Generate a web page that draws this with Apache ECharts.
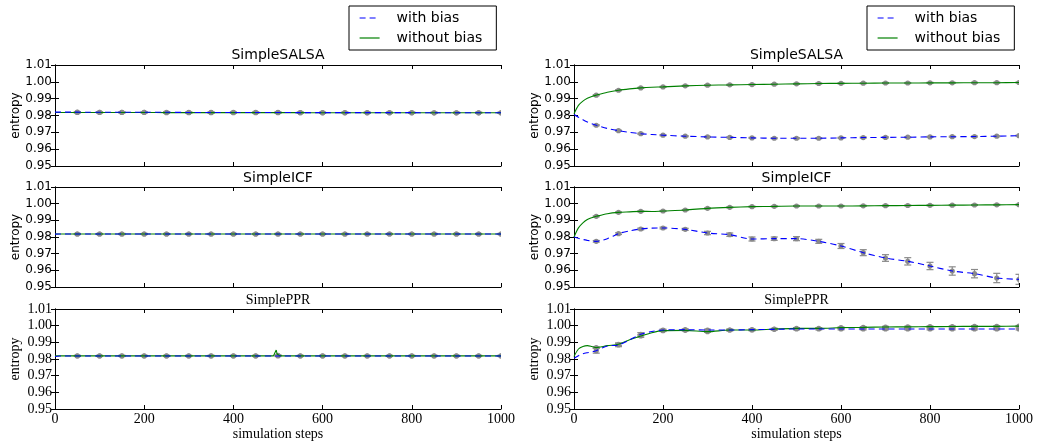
<!DOCTYPE html>
<html><head><meta charset="utf-8">
<script src="https://cdn.jsdelivr.net/npm/echarts@6/dist/echarts.min.js"></script>
<style>html,body{margin:0;padding:0;background:#fff}#c{width:1039px;height:446px}</style>
</head><body><div id="c"></div>
<script>
// ---------------- DATA ----------------
const steps = [0,10,20,30,40,50,75,100,125,150,175,200,250,300,350,400,450,500,550,600,650,700,750,800,850,900,950,1000];
const barSteps = [50,100,150,200,250,300,350,400,450,500,550,600,650,700,750,800,850,900,950,1000];
const xTicks = [0,200,400,600,800,1000];
const yTicks = [0.95,0.96,0.97,0.98,0.99,1.00,1.01];
const titles = ['SimpleSALSA','SimpleICF','SimplePPR'];
const legendNames = ['with bias','without bias'];

// left column (no bias effect)
const leftSalsaBias   = [0.9820,0.9820,0.9820,0.9820,0.9820,0.9820,0.9819,0.9819,0.9819,0.9819,0.9819,0.9819,0.9819,0.9818,0.9818,0.9818,0.9818,0.9818,0.9817,0.9817,0.9817,0.9817,0.9817,0.9817,0.9816,0.9816,0.9816,0.9816];
const leftSalsaNoBias = [0.9818,0.9818,0.9818,0.9818,0.9818,0.9818,0.9818,0.9818,0.9818,0.9818,0.9818,0.9818,0.9817,0.9817,0.9817,0.9817,0.9817,0.9817,0.9817,0.9816,0.9816,0.9816,0.9816,0.9816,0.9816,0.9816,0.9816,0.9816];
const leftIcfBias     = [0.9817,0.9818,0.9818,0.9818,0.9818,0.9818,0.9818,0.9818,0.9818,0.9818,0.9818,0.9818,0.9818,0.9818,0.9818,0.9818,0.9818,0.9818,0.9818,0.9818,0.9818,0.9818,0.9818,0.9818,0.9818,0.9818,0.9818,0.9818];
const leftIcfNoBias   = [0.9818,0.9818,0.9818,0.9818,0.9818,0.9818,0.9818,0.9818,0.9818,0.9818,0.9818,0.9818,0.9818,0.9818,0.9818,0.9818,0.9818,0.9818,0.9818,0.9818,0.9818,0.9818,0.9818,0.9818,0.9818,0.9818,0.9818,0.9818];
const leftPprBias     = [0.9815,0.9818,0.9818,0.9818,0.9818,0.9818,0.9818,0.9818,0.9818,0.9818,0.9818,0.9818,0.9818,0.9818,0.9818,0.9818,0.9818,0.9818,0.9818,0.9818,0.9818,0.9818,0.9818,0.9818,0.9818,0.9818,0.9818,0.9818];
const leftPprSpikeSteps = [0,50,100,150,200,250,300,350,400,450,490,494,496,498,500,504,510,550,600,650,700,750,800,850,900,950,1000];
const leftPprNoBias   = [0.9819,0.9819,0.9819,0.9819,0.9819,0.9819,0.9819,0.9819,0.9819,0.9819,0.9819,0.9822,0.9854,0.9830,0.9822,0.9820,0.9819,0.9819,0.9819,0.9819,0.9819,0.9819,0.9819,0.9819,0.9819,0.9819,0.9819];

// right column
const rightSalsaBias   = [0.9806,0.9790,0.9775,0.9762,0.9751,0.9742,0.9723,0.9710,0.9700,0.9692,0.9687,0.9683,0.9677,0.9673,0.9670,0.9667,0.9665,0.9665,0.9665,0.9667,0.9669,0.9670,0.9671,0.9673,0.9674,0.9675,0.9677,0.9680];
const rightSalsaNoBias = [0.9810,0.9860,0.9885,0.9902,0.9913,0.9921,0.9938,0.9950,0.9958,0.9964,0.9968,0.9970,0.9976,0.9980,0.9982,0.9984,0.9986,0.9988,0.9990,0.9991,0.9992,0.9993,0.9993,0.9994,0.9994,0.9995,0.9995,0.9996];
const rightIcfBias     = [0.9800,0.9792,0.9785,0.9780,0.9776,0.9774,0.9790,0.9820,0.9837,0.9848,0.9853,0.9854,0.9846,0.9824,0.9814,0.9788,0.9790,0.9790,0.9774,0.9746,0.9706,0.9674,0.9654,0.9626,0.9596,0.9580,0.9554,0.9546];
const rightIcfNoBias   = [0.9800,0.9855,0.9885,0.9905,0.9916,0.9924,0.9940,0.9948,0.9951,0.9954,0.9953,0.9956,0.9962,0.9972,0.9978,0.9982,0.9984,0.9986,0.9986,0.9986,0.9987,0.9988,0.9989,0.9990,0.9991,0.9992,0.9993,0.9994];
const rightPprBias     = [0.9805,0.9820,0.9832,0.9838,0.9842,0.9850,0.9878,0.9884,0.9915,0.9948,0.9965,0.9974,0.9976,0.9974,0.9974,0.9976,0.9978,0.9980,0.9980,0.9980,0.9980,0.9980,0.9980,0.9980,0.9980,0.9980,0.9980,0.9980];
const rightPprNoBias   = [0.9815,0.9860,0.9875,0.9880,0.9875,0.9868,0.9880,0.9888,0.9915,0.9938,0.9958,0.9970,0.9972,0.9964,0.9974,0.9974,0.9980,0.9984,0.9984,0.9988,0.9990,0.9992,0.9993,0.9994,0.9995,0.9996,0.9996,0.9997];

// error bar half-widths at barSteps
const errSmall         = [0.0003,0.0003,0.0003,0.0003,0.0003,0.0003,0.0003,0.0003,0.0003,0.0003,0.0003,0.0003,0.0003,0.0003,0.0003,0.0003,0.0003,0.0003,0.0003,0.0003];
const errRightIcfBias  = [0.0005,0.0005,0.0005,0.0005,0.0006,0.0010,0.0010,0.0012,0.0010,0.0012,0.0012,0.0015,0.0018,0.0020,0.0022,0.0022,0.0025,0.0025,0.0028,0.0030];
const errRightPprBias  = [0.0015,0.0010,0.0010,0.0005,0.0005,0.0005,0.0005,0.0005,0.0005,0.0005,0.0005,0.0005,0.0005,0.0005,0.0005,0.0005,0.0005,0.0005,0.0005,0.0005];
const errRightPprNoBias= [0.0005,0.0008,0.0008,0.0005,0.0004,0.0004,0.0004,0.0004,0.0004,0.0004,0.0004,0.0004,0.0004,0.0004,0.0004,0.0004,0.0004,0.0004,0.0004,0.0004];

// ---------------- LAYOUT / STYLE ----------------
const colLeft = [55, 574], colWidth = [446, 445];
const rowTop = [65, 187, 309], rowHeight = [101, 100, 100];
const titleY = [55, 178, 300];
const SANS = 'DejaVu Sans', SERIF = 'Liberation Serif';

const panels = [
  {col:0,row:0,bias:[steps,leftSalsaBias],nobias:[steps,leftSalsaNoBias],eb:errSmall,en:errSmall},
  {col:0,row:1,bias:[steps,leftIcfBias],nobias:[steps,leftIcfNoBias],eb:errSmall,en:errSmall},
  {col:0,row:2,bias:[steps,leftPprBias],nobias:[leftPprSpikeSteps,leftPprNoBias],eb:errSmall,en:errSmall,sharp:true},
  {col:1,row:0,bias:[steps,rightSalsaBias],nobias:[steps,rightSalsaNoBias],eb:errSmall,en:errSmall},
  {col:1,row:1,bias:[steps,rightIcfBias],nobias:[steps,rightIcfNoBias],eb:errRightIcfBias,en:errSmall},
  {col:1,row:2,bias:[steps,rightPprBias],nobias:[steps,rightPprNoBias],eb:errRightPprBias,en:errRightPprNoBias}
];

function zip(xs, ys){ return xs.map((x,i)=>[x, ys[i]]); }
function meansAt(xs, ys){ return barSteps.map(b => { const i = xs.indexOf(b); return ys[i]; }); }
function errData(xs, ys, err){ const m = meansAt(xs, ys); return barSteps.map((b,i)=>[b, m[i], err[i]]); }

function renderErr(params, api){
  const x = api.value(0), m = api.value(1), e = api.value(2);
  const p = api.coord([x, m]), lo = api.coord([x, m - e]), hi = api.coord([x, m + e]);
  const c = 3.5, st = {stroke:'#8a8a8a', lineWidth:1.2};
  return {type:'group', children:[
    {type:'line', shape:{x1:p[0],y1:hi[1],x2:p[0],y2:lo[1]}, style:st},
    {type:'line', shape:{x1:p[0]-c,y1:hi[1],x2:p[0]+c,y2:hi[1]}, style:st},
    {type:'line', shape:{x1:p[0]-c,y1:lo[1],x2:p[0]+c,y2:lo[1]}, style:st},
    {type:'circle', shape:{cx:p[0],cy:p[1],r:2.6}, style:{fill:'#8a8a8a'}}
  ]};
}

const grid = [], xAxis = [], yAxis = [], series = [], graphic = [];
panels.forEach((pn, i) => {
  const isBottom = pn.row === 2;
  const ppr = pn.row === 2;
  grid.push({left: colLeft[pn.col], top: rowTop[pn.row], width: colWidth[pn.col], height: rowHeight[pn.row], containLabel:false});
  const xBase = {gridIndex:i, type:'value', min:0, max:1000, interval:200,
    axisLine:{show:true, lineStyle:{color:'#000', width:1}},
    axisTick:{show:true, inside:true, length:4, lineStyle:{color:'#000'}},
    splitLine:{show:false}};
  xAxis.push(Object.assign({}, xBase, {position:'bottom',
    axisLabel:{show:isBottom, color:'#000', fontFamily:SERIF, fontSize:14, margin:3, formatter:v=>String(v)},
    name: isBottom ? 'simulation steps' : '', nameLocation:'middle', nameGap:17,
    nameTextStyle:{fontFamily:SERIF, fontSize:14, color:'#000'}}));
  xAxis.push(Object.assign({}, xBase, {position:'top', axisLabel:{show:false}}));
  const yBase = {gridIndex:i, type:'value', min:0.95, max:1.01, interval:0.01,
    axisLine:{show:true, lineStyle:{color:'#000', width:1}},
    axisTick:{show:true, inside:true, length:4, lineStyle:{color:'#000'}},
    splitLine:{show:false}};
  yAxis.push(Object.assign({}, yBase, {position:'left',
    axisLabel:{show:true, color:'#000', fontFamily: ppr?SERIF:SANS, fontSize: ppr?14:12, margin:3, formatter:v=>v.toFixed(2)},
    name:'entropy', nameLocation:'middle', nameGap:33,
    nameTextStyle:{fontFamily: ppr?SERIF:SANS, fontSize: ppr?14:12, color:'#000'}}));
  yAxis.push(Object.assign({}, yBase, {position:'right', axisLabel:{show:false}}));
  const xi = i*2, yi = i*2;
  series.push({type:'custom', name:'err-bias-'+i, xAxisIndex:xi, yAxisIndex:yi, renderItem:renderErr, clip:true, z:1,
    encode:{x:0,y:1}, data: errData(pn.bias[0], pn.bias[1], pn.eb), silent:true});
  series.push({type:'custom', name:'err-nobias-'+i, xAxisIndex:xi, yAxisIndex:yi, renderItem:renderErr, clip:true, z:1,
    encode:{x:0,y:1}, data: errData(pn.nobias[0], pn.nobias[1], pn.en), silent:true});
  series.push({type:'line', name:'with bias', xAxisIndex:xi, yAxisIndex:yi, data: zip(pn.bias[0], pn.bias[1]),
    symbol:'none', smooth:0.3, z:3, clip:true, color:'#0000ff',
    lineStyle:{color:'#0000ff', width:1.1, type:[6,4]}});
  series.push({type:'line', name:'without bias', xAxisIndex:xi, yAxisIndex:yi, data: zip(pn.nobias[0], pn.nobias[1]),
    symbol:'none', smooth: pn.sharp ? false : 0.3, z:2, clip:true, color:'#008000',
    lineStyle:{color:'#008000', width:1.1}});
  graphic.push({type:'text', x: colLeft[pn.col] + colWidth[pn.col]/2, y: titleY[pn.row],
    style:{text: titles[pn.row], textAlign:'center', textVerticalAlign:'middle',
      font: ppr ? '14px "Liberation Serif"' : '14px "DejaVu Sans"', fill:'#000'}});
});

const legendBase = {orient:'vertical', top:6, data: legendNames, itemWidth:20, itemHeight:12, itemGap:6,
  padding:[5,14,5,10], borderColor:'#000', borderWidth:1, backgroundColor:'#fff',
  itemStyle:{opacity:0, borderWidth:0}, lineStyle:{width:1.2},
  textStyle:{fontFamily:SANS, fontSize:14, color:'#000', padding:[0,0,0,12]}, selectedMode:false};
const legend = [Object.assign({}, legendBase, {left:349}), Object.assign({}, legendBase, {left:867})];

const chart = echarts.init(document.getElementById('c'), null, {renderer:'canvas'});
chart.setOption({animation:false, backgroundColor:'#fff', grid, xAxis, yAxis, series, legend, graphic});
</script></body></html>
